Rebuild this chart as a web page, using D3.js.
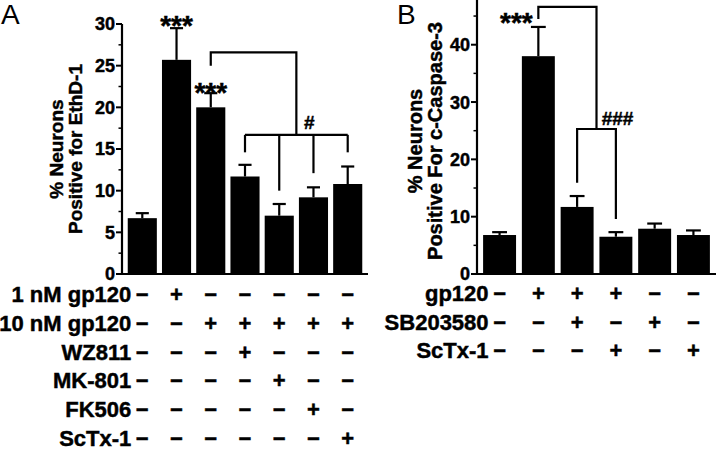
<!DOCTYPE html>
<html><head><meta charset="utf-8">
<script src="https://cdn.jsdelivr.net/npm/d3@7"></script>
<style>
html,body{margin:0;padding:0;background:#fff;}
svg{display:block;}
text{font-family:"Liberation Sans",Arial,sans-serif;fill:#000;}
text.b{font-weight:bold;stroke:#000;stroke-width:0.45px;}
</style></head>
<body><svg id="c" width="720" height="450"></svg>
<script>
// ---------- Data ----------
const conditionsA = ["c1","c2","c3","c4","c5","c6","c7"];
const valuesA = [6.7, 25.7, 20.0, 11.7, 7.0, 9.2, 10.8];
const errorsA = [0.6, 3.8, 1.7, 1.4, 1.4, 1.2, 2.1];
const ticksA = [0, 5, 10, 15, 20, 25, 30];
const minorTicksA = [2.5, 7.5, 12.5, 17.5, 22.5, 27.5];
const rowLabelsA = ["1 nM gp120", "10 nM gp120", "WZ811", "MK-801", "FK506", "ScTx-1"];
const rowSignsA = [
  ["-","+","-","-","-","-","-"],
  ["-","-","+","+","+","+","+"],
  ["-","-","-","+","-","-","-"],
  ["-","-","-","-","+","-","-"],
  ["-","-","-","-","-","+","-"],
  ["-","-","-","-","-","-","+"]
];

const conditionsB = ["d1","d2","d3","d4","d5","d6"];
const valuesB = [6.8, 38.0, 11.7, 6.5, 7.9, 6.8];
const errorsB = [0.5, 5.1, 1.9, 0.8, 0.9, 0.8];
const ticksB = [0, 10, 20, 30, 40];
const minorTicksB = [5, 15, 25, 35, 45];
const rowLabelsB = ["gp120", "SB203580", "ScTx-1"];
const rowSignsB = [
  ["-","+","+","+","-","-"],
  ["-","-","+","-","+","-"],
  ["-","-","-","+","-","+"]
];

// ---------- Setup ----------
const svg = d3.select("#c");
const sign = s => s === "+" ? "+" : "\u2212";

function panel(opt) {
  const g = svg.append("g");
  const x = d3.scaleBand().domain(opt.cats).range(opt.xRange).paddingInner(0.15).paddingOuter(0.08);
  const y = d3.scaleLinear().domain(opt.yDomain).range([274, opt.yTop]);

  g.selectAll("rect.bar").data(opt.values).join("rect")
    .attr("x", (d, i) => x(opt.cats[i]))
    .attr("width", x.bandwidth())
    .attr("y", d => y(d))
    .attr("height", d => y(0) - y(d))
    .attr("fill", "#000");

  const cx = i => x(opt.cats[i]) + x.bandwidth() / 2;
  const capW = x.bandwidth() * 0.45;
  opt.values.forEach((v, i) => {
    const top = y(v + opt.errors[i]);
    g.append("line").attr("x1", cx(i)).attr("x2", cx(i)).attr("y1", y(v)).attr("y2", top)
      .attr("stroke", "#000").attr("stroke-width", 2.2);
    g.append("line").attr("x1", cx(i) - capW / 2).attr("x2", cx(i) + capW / 2).attr("y1", top).attr("y2", top)
      .attr("stroke", "#000").attr("stroke-width", 2.2);
  });

  const ax = opt.xRange[0] - 3;
  g.append("line").attr("x1", ax).attr("x2", ax).attr("y1", y(0) + 1).attr("y2", opt.yTop)
    .attr("stroke", "#000").attr("stroke-width", 2.2);
  g.selectAll("line.tk").data(opt.ticks).join("line")
    .attr("x1", ax - 6).attr("x2", ax).attr("y1", d => y(d)).attr("y2", d => y(d))
    .attr("stroke", "#000").attr("stroke-width", 2);
  g.selectAll("line.mtk").data(opt.minor).join("line")
    .attr("x1", ax - 3.5).attr("x2", ax).attr("y1", d => y(d)).attr("y2", d => y(d))
    .attr("stroke", "#000").attr("stroke-width", 1.5);
  g.selectAll("text.tl").data(opt.ticks).join("text")
    .attr("class", "b")
    .attr("x", ax - 7).attr("y", d => y(d)).attr("dy", "0.36em")
    .attr("text-anchor", "end").attr("font-size", 18)
    .text(d => d);
  g.append("line").attr("x1", ax - 1).attr("x2", opt.xRange[1] + 3).attr("y1", y(0)).attr("y2", y(0))
    .attr("stroke", "#000").attr("stroke-width", 2.2);

  const tg = g.append("g").attr("transform", `translate(${opt.titleX},${opt.titleY}) rotate(-90)`);
  tg.append("text").attr("class", "b").attr("x", 0).attr("y", 0).attr("text-anchor", "middle")
    .attr("font-size", opt.titleSize).text("% Neurons");
  tg.append("text").attr("class", "b").attr("x", 0).attr("y", opt.titleGap).attr("text-anchor", "middle")
    .attr("font-size", opt.titleSize).text(opt.title2);

  g.append("text").attr("x", opt.letterX).attr("y", opt.letterY).attr("font-size", 28)
    .text(opt.letter);

  const ry = d3.scalePoint().domain(opt.rowLabels).range(opt.rowRange);
  opt.rowLabels.forEach((lab, r) => {
    g.append("text").attr("class", "b").attr("x", cx(0) - 11).attr("y", ry(lab)).attr("text-anchor", "end")
      .attr("font-size", 22).text(lab);
    opt.rowSigns[r].forEach((s, i) => {
      g.append("text").attr("class", "b").attr("x", cx(i)).attr("y", ry(lab)).attr("text-anchor", "middle")
        .attr("font-size", 22).text(sign(s));
    });
  });

  return {g, x, y, cx};
}

function pathLine(g, pts) {
  g.append("path").attr("d", d3.line()(pts)).attr("fill", "none")
    .attr("stroke", "#000").attr("stroke-width", 2.2);
}
function label(g, x, y, txt, size) {
  g.append("text").attr("class", "b").attr("x", x).attr("y", y).attr("text-anchor", "middle")
    .attr("font-size", size).text(txt);
}

// ---------- Panel A ----------
const A = panel({
  cats: conditionsA, values: valuesA, errors: errorsA,
  xRange: [125, 365], yDomain: [0, 30], yTop: 24,
  ticks: ticksA, minor: minorTicksA,
  titleX: 63, titleY: 149, titleGap: 19, titleSize: 19, title2: "Positive for EthD-1",
  letter: "A", letterX: 1, letterY: 24,
  rowLabels: rowLabelsA, rowSigns: rowSignsA, rowRange: [302, 446]
});
{
  const {g, y, cx} = A;
  const mid56 = (cx(4) + cx(5)) / 2;
  pathLine(g, [[cx(2), y(25.0)], [cx(2), y(26.6)], [mid56, y(26.6)], [mid56, y(16.7)]]);
  pathLine(g, [[cx(3), y(16.7)], [cx(6), y(16.7)]]);
  [[3, 14.6], [4, 10.0], [5, 12.1], [6, 14.6]].forEach(([i, v]) =>
    pathLine(g, [[cx(i), y(16.7)], [cx(i), y(v)]]));
  label(g, cx(1), y(valuesA[1] + errorsA[1]) + 6.5, "***", 28);
  label(g, cx(2), y(valuesA[2] + errorsA[2]) + 8.5, "***", 28);
  label(g, mid56 + 13, y(16.7) - 6, "#", 19);
}

// ---------- Panel B ----------
const B = panel({
  cats: conditionsB, values: valuesB, errors: errorsB,
  xRange: [480, 713], yDomain: [0, 47.8], yTop: 0,
  ticks: ticksB, minor: minorTicksB,
  titleX: 422, titleY: 141, titleGap: 20, titleSize: 20, title2: "Positive For c-Caspase-3",
  letter: "B", letterX: 397, letterY: 24,
  rowLabels: rowLabelsB, rowSigns: rowSignsB, rowRange: [301, 358]
});
{
  const {g, y, cx} = B;
  const mid34 = (cx(2) + cx(3)) / 2;
  pathLine(g, [[cx(1), y(44.5)], [cx(1), y(46.6)], [mid34, y(46.6)], [mid34, y(25.3)]]);
  pathLine(g, [[cx(2), y(15.9)], [cx(2), y(25.3)], [cx(3), y(25.3)], [cx(3), y(9.6)]]);
  label(g, cx(1) - 22, y(46.6) + 25, "***", 28);
  label(g, mid34 + 21, y(25.3) - 4, "###", 19);
}
</script></body></html>
